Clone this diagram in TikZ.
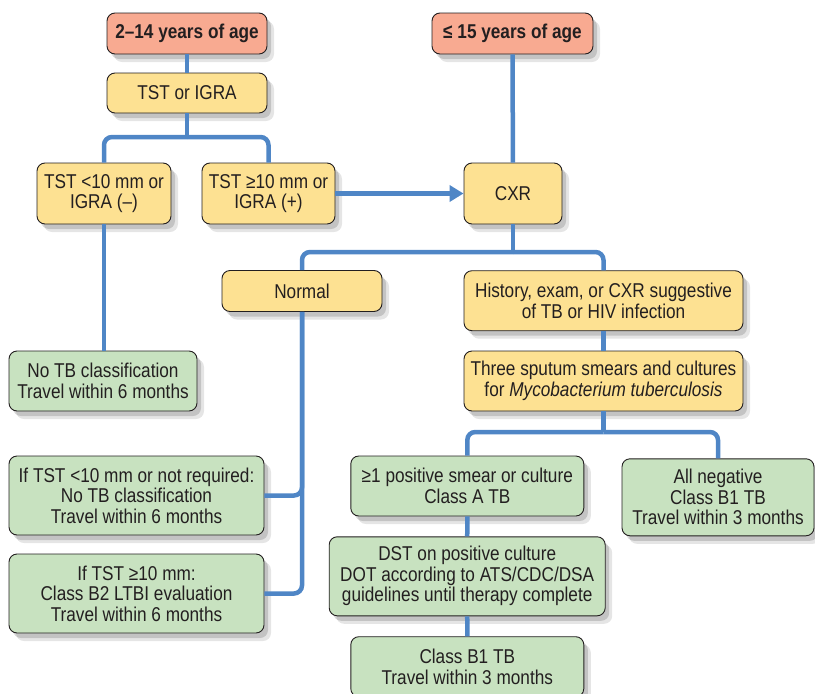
\documentclass[tikz,border=0pt]{standalone}
\usepackage{fontspec}
\setmainfont{Liberation Sans}[FakeStretch=0.86]
\usepackage{xcolor}
\usepackage{tikz}
\usetikzlibrary{positioning, shapes, arrows.meta, calc, shadows}

\definecolor{agered}{HTML}{F8AA91}
\definecolor{stepyellow}{HTML}{FDE192}
\definecolor{resgreen}{HTML}{C8E2C0}
\definecolor{linkblue}{HTML}{4F86C6}
\definecolor{inkgray}{HTML}{231F20}

\begin{document}
\begin{tikzpicture}[x=1pt, y=-1pt,
    every node/.style={font=\fontsize{20}{20.5}\selectfont, text=inkgray},
    box/.style={draw=inkgray, line width=0.9pt, rectangle, rounded corners=8pt, align=center, inner sep=2pt,
      drop shadow={shadow xshift=7pt, shadow yshift=-8pt, fill=black, opacity=0.10},
      drop shadow={shadow xshift=4pt, shadow yshift=-5pt, fill=black, opacity=0.15}},
    agebox/.style={box, fill=agered, font=\fontsize{20}{20.5}\selectfont\bfseries},
    askbox/.style={box, fill=stepyellow},
    endbox/.style={box, fill=resgreen},
    link/.style={draw=linkblue, line width=4.5pt, rounded corners=8pt}]
      \useasboundingbox (0,0) rectangle (815,694);

      % Age nodes
      \node[agebox, minimum width=160pt, minimum height=41pt] (age1) at (187, 33.5) {2–14 years of age};
      \node[agebox, minimum width=161pt, minimum height=41pt] (age2) at (512.5, 33.5) {≤ 15 years of age};

      % Test nodes
      \node[askbox, minimum width=160pt, minimum height=40pt] (tst) at (187, 93) {TST or IGRA};
      \node[askbox, minimum width=134pt, minimum height=61pt] (neg) at (104, 193.5) {TST <10 mm or\\IGRA (–)};
      \node[askbox, minimum width=133pt, minimum height=61pt] (pos) at (268.5, 193.5) {TST ≥10 mm or\\IGRA (+)};
      \node[askbox, minimum width=98pt, minimum height=61pt] (cxr) at (513, 193.5) {CXR};
      \node[askbox, minimum width=160pt, minimum height=41pt] (normal) at (302, 291) {Normal};
      \node[askbox, minimum width=279pt, minimum height=60pt] (hist) at (603.5, 300.7) {History, exam, or CXR suggestive\\of TB or HIV infection};
      \node[askbox, minimum width=279pt, minimum height=60pt] (sputum) at (603.5, 381) {Three sputum smears and cultures\\for \textit{Mycobacterium tuberculosis}};

      % Outcome nodes
      \node[endbox, minimum width=188pt, minimum height=60pt] (notb) at (103, 381) {No TB classification\\Travel within 6 months};
      \node[endbox, minimum width=255pt, minimum height=79pt] (lt10) at (136.5, 495.5) {If TST <10 mm or not required:\\No TB classification\\Travel within 6 months};
      \node[endbox, minimum width=255pt, minimum height=79pt] (ge10) at (136.5, 593.5) {If TST ≥10 mm:\\Class B2 LTBI evaluation\\Travel within 6 months};
      \node[endbox, minimum width=233pt, minimum height=60pt] (smear) at (467.3, 486) {≥1 positive smear or culture\\Class A TB};
      \node[endbox, minimum width=192pt, minimum height=77pt] (allneg) at (718, 497.3) {All negative\\Class B1 TB\\Travel within 3 months};
      \node[endbox, minimum width=276pt, minimum height=79pt] (dst) at (467.2, 576.3) {DST on positive culture\\DOT according to ATS/CDC/DSA\\guidelines until therapy complete};
      \node[endbox, minimum width=233pt, minimum height=60pt] (b1) at (467.3, 666.7) {Class B1 TB\\Travel within 3 months};

      % Split points
      \coordinate (tstsplit) at (187, 137);
      \coordinate (cxrsplit) at (513, 252);
      \coordinate (sputsplit) at (603.5, 432);

      % Connectors
      \draw[link] (age1) -- (tst);
      \draw[link] (tst.south) -- (tstsplit);
      \draw[link] (tstsplit) -| (neg.north);
      \draw[link] (tstsplit) -| (pos.north);
      \draw[link, -{Triangle[length=14pt, width=16pt]}] (pos.east) -- (cxr.west);
      \draw[link] (neg.south) -- (neg.south |- notb.north);
      \draw[link] (age2) -- (cxr);
      \draw[link] (cxr.south) -- (cxrsplit);
      \draw[link] (cxrsplit) -| (normal.north);
      \draw[link] (cxrsplit) -| (hist.north);
      \draw[link] (lt10.east) -| (normal.south);
      \draw[link] (ge10.east) -| (normal.south);
      \draw[link] (hist) -- (sputum);
      \draw[link] (sputum.south) -- (sputsplit);
      \draw[link] (sputsplit) -| (smear.north);
      \draw[link] (sputsplit) -| (allneg.north);
      \draw[link] (smear) -- (dst);
      \draw[link] (dst) -- (b1);
\end{tikzpicture}
\end{document}
